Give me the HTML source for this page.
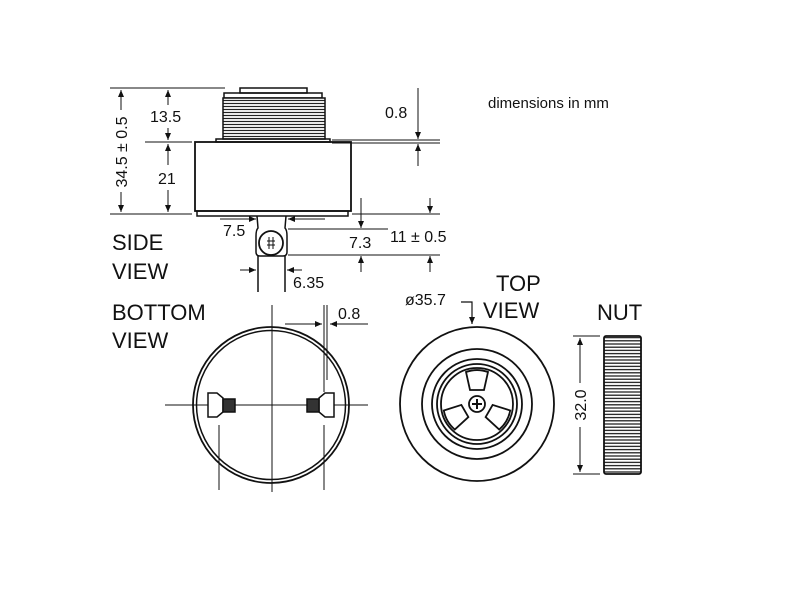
<!DOCTYPE html>
<html><head><meta charset="utf-8"><style>
body{margin:0;background:#fff}
svg{display:block}
text{font-family:"Liberation Sans",Arial,sans-serif;fill:#111}
</style></head><body>
<svg width="800" height="600" viewBox="0 0 800 600" xmlns="http://www.w3.org/2000/svg">
<defs>
<marker id="a" markerWidth="8" markerHeight="8" refX="7" refY="3" orient="auto" markerUnits="userSpaceOnUse"><path d="M0,0 L7,3 L0,6 z" fill="#111"/></marker>
<pattern id="thr" width="10" height="3" patternUnits="userSpaceOnUse"><rect width="10" height="3" fill="#fff"/><line x1="0" y1="1.5" x2="10" y2="1.5" stroke="#222" stroke-width="1.2"/></pattern>
<pattern id="nut" width="10" height="3.2" patternUnits="userSpaceOnUse"><rect width="10" height="3.2" fill="#fff"/><line x1="0" y1="1.6" x2="10" y2="1.6" stroke="#222" stroke-width="1.3"/></pattern>
<g id="blade"><path d="M-7,-14 L7,-14 L11,-32 A33,33 0 0 0 -11,-32 Z" fill="#fff" stroke="#111" stroke-width="1.8"/></g>
</defs>
<g stroke="#111" fill="none" stroke-width="1.5">
<rect x="240" y="88" width="67" height="5"/>
<rect x="224" y="93" width="98" height="5"/>
<rect x="223" y="98" width="102" height="41" fill="url(#thr)"/>
<rect x="216" y="139" width="114" height="3"/>
<rect x="195" y="142" width="156" height="69" stroke-width="1.8"/>
<rect x="197" y="211" width="151" height="5"/>
<path d="M257,216 L258,228 Q256,230 256,236 L256,252 Q256,256 260,256 L283,256 Q287,256 287,252 L287,236 Q287,230 285,228 L286,216"/>
<circle cx="271" cy="243" r="12" stroke-width="1.8"/>
<path d="M267,241 h8 M267,245 h8 M269,237 v12 M273,237 v12" stroke-width="1"/>
<line x1="258" y1="256" x2="258" y2="292"/><line x1="285" y1="256" x2="285" y2="292"/>
<g stroke-width="1">
<line x1="110" y1="88" x2="225" y2="88"/>
<line x1="145" y1="142" x2="192" y2="142"/>
<line x1="110" y1="214" x2="192" y2="214"/>
<line x1="121" y1="110" x2="121" y2="90" marker-end="url(#a)"/>
<line x1="121" y1="192" x2="121" y2="212" marker-end="url(#a)"/>
<line x1="168" y1="105" x2="168" y2="90" marker-end="url(#a)"/>
<line x1="168" y1="128" x2="168" y2="140" marker-end="url(#a)"/>
<line x1="168" y1="165" x2="168" y2="144" marker-end="url(#a)"/>
<line x1="168" y1="190" x2="168" y2="212" marker-end="url(#a)"/>
<line x1="332" y1="140" x2="440" y2="140"/><line x1="332" y1="143" x2="440" y2="143"/>
<line x1="418" y1="88" x2="418" y2="139" marker-end="url(#a)"/>
<line x1="418" y1="166" x2="418" y2="144" marker-end="url(#a)"/>
<line x1="352" y1="214" x2="440" y2="214"/>
<line x1="288" y1="229" x2="388" y2="229"/>
<line x1="288" y1="255" x2="440" y2="255"/>
<line x1="361" y1="198" x2="361" y2="228" marker-end="url(#a)"/>
<line x1="361" y1="272" x2="361" y2="256" marker-end="url(#a)"/>
<line x1="430" y1="198" x2="430" y2="213" marker-end="url(#a)"/>
<line x1="430" y1="272" x2="430" y2="256" marker-end="url(#a)"/>
<line x1="220" y1="219" x2="256" y2="219" marker-end="url(#a)"/>
<line x1="325" y1="219" x2="288" y2="219" marker-end="url(#a)"/>
<line x1="240" y1="270" x2="256" y2="270" marker-end="url(#a)"/>
<line x1="302" y1="270" x2="287" y2="270" marker-end="url(#a)"/>
</g>
<circle cx="271" cy="405" r="78" stroke-width="1.8"/>
<circle cx="271" cy="405" r="74.5" stroke-width="1.5"/>
<g stroke-width="1">
<line x1="165" y1="405" x2="368" y2="405"/>
<line x1="272" y1="305" x2="272" y2="492"/>
<line x1="219" y1="425" x2="219" y2="490"/>
<line x1="324" y1="425" x2="324" y2="490"/>
<line x1="324" y1="305" x2="324" y2="392"/>
<line x1="327" y1="305" x2="327" y2="380"/>
<line x1="285" y1="324" x2="322" y2="324" marker-end="url(#a)"/>
<line x1="368" y1="324" x2="330" y2="324" marker-end="url(#a)"/>
</g>
<path d="M208,393 h9 l6,5 v14 l-6,5 h-9 z" fill="#fff"/>
<rect x="223" y="399" width="12" height="13" fill="#333"/>
<path d="M334,393 h-9 l-6,5 v14 l6,5 h9 z" fill="#fff"/>
<rect x="307" y="399" width="12" height="13" fill="#333"/>
<circle cx="477" cy="404" r="77" stroke-width="1.8"/>
<circle cx="477" cy="404" r="55" stroke-width="1.8"/>
<circle cx="477" cy="404" r="45" stroke-width="1.8"/>
<circle cx="477" cy="404" r="40" stroke-width="1.8"/>
<circle cx="477" cy="404" r="36" stroke-width="1.8"/>
<circle cx="477" cy="404" r="8" stroke-width="1.8"/>
<path d="M472,404 h10 M477,399 v10" stroke-width="2"/>
<use href="#blade" transform="translate(477,404)"/>
<use href="#blade" transform="translate(477,404) rotate(120)"/>
<use href="#blade" transform="translate(477,404) rotate(240)"/>
<path d="M461,302 h11 v22" stroke-width="1.2" marker-end="url(#a)"/>
<rect x="604" y="336" width="37" height="138" rx="2" fill="url(#nut)" stroke-width="1.8"/>
<g stroke-width="1">
<line x1="573" y1="336" x2="600" y2="336"/>
<line x1="573" y1="474" x2="600" y2="474"/>
<line x1="580" y1="383" x2="580" y2="338" marker-end="url(#a)"/>
<line x1="580" y1="427" x2="580" y2="472" marker-end="url(#a)"/>
</g>
</g>
<g font-size="16">
<text x="488" y="108" font-size="15">dimensions in mm</text>
<text x="150" y="122">13.5</text>
<text x="158" y="184">21</text>
<text x="385" y="118">0.8</text>
<text x="223" y="236">7.5</text>
<text x="349" y="248">7.3</text>
<text x="390" y="242">11 ± 0.5</text>
<text x="293" y="288">6.35</text>
<text x="338" y="319">0.8</text>
<text x="405" y="305">ø35.7</text>
<text transform="translate(127,152) rotate(-90)" text-anchor="middle">34.5 ± 0.5</text>
<text transform="translate(586,405) rotate(-90)" text-anchor="middle">32.0</text>
</g>
<g font-size="22">
<text x="112" y="250">SIDE</text>
<text x="112" y="279">VIEW</text>
<text x="112" y="320">BOTTOM</text>
<text x="112" y="348">VIEW</text>
<text x="496" y="291">TOP</text>
<text x="483" y="318">VIEW</text>
<text x="597" y="320">NUT</text>
</g>
</svg>
</body></html>
